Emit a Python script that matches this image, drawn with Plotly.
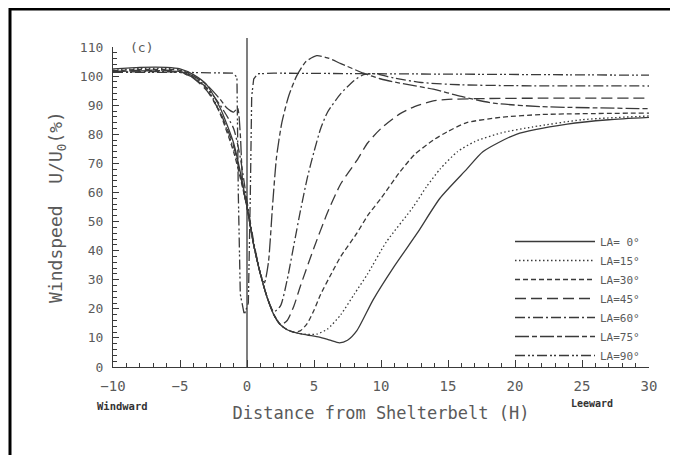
import plotly.graph_objects as go

# ---------------- data ----------------
angle_labels = ["LA= 0°", "LA=15°", "LA=30°", "LA=45°", "LA=60°", "LA=75°", "LA=90°"]

x_a0 = [-10, -8, -6, -5, -4, -3, -2, -1, -0.5, 0, 0.5, 1, 1.5, 2, 2.5, 3, 3.7, 4.5, 5.4, 6.2, 6.9, 7.5, 8.2, 9.4, 10.9, 12.7, 14.4, 16.4, 17.6, 20.1, 23.9, 27, 30]
y_a0 = [102.5, 103, 103, 102.5, 100.5, 97, 89, 77, 67, 55, 42, 32, 24, 18, 14.5, 12.8, 11.7, 11, 10.3, 9.2, 8.3, 9.2, 12.5, 23, 34, 46, 58, 68, 74, 80, 83.5, 85, 85.8]

x_a15 = [-10, -8, -6, -5, -4, -3, -2, -1, -0.5, 0, 0.5, 1, 1.5, 2, 2.5, 3, 3.7, 4.5, 5.2, 6, 7, 8, 9, 10.4, 12.4, 13.4, 14.4, 15.7, 17, 19, 21.3, 25, 30]
y_a15 = [102, 102.6, 102.6, 102.2, 100, 96, 87.5, 75, 66, 55, 42, 32, 24, 18, 14.5, 12.8, 11.7, 11.2, 11.3, 13, 18, 25, 32, 43, 55, 62, 68, 74, 77.5, 80.5, 82.5, 85, 86.3]

x_a30 = [-10, -8, -6, -5, -4, -3, -2, -1, -0.5, 0, 0.5, 1, 1.5, 2, 2.5, 3, 3.5, 4, 4.5, 5, 5.5, 6.4, 7, 8.2, 9, 10, 11.4, 12.5, 13.9, 15, 16.4, 18.9, 22, 30]
y_a30 = [101.8, 102.3, 102.3, 102, 99.5, 95.5, 87, 74, 65, 55, 42, 32, 24, 18, 14.5, 12.8, 12, 12.5, 15, 19.5, 25, 33, 38, 46, 52, 58, 67, 73, 78, 81, 84, 85.8, 86.8, 87.3]

x_a45 = [-10, -8, -6, -5, -4, -3, -2, -1, -0.5, 0, 0.5, 1, 1.5, 2, 2.5, 3, 3.5, 4, 5, 6, 7, 8.2, 9, 10, 11.4, 12.5, 13.9, 15, 18, 22, 30]
y_a45 = [101.5, 102, 102, 101.5, 99.3, 95, 87.5, 76, 66, 55, 42, 32, 24, 18, 14.5, 16, 21, 28, 41, 53, 63, 71, 77, 82, 87, 89.5, 91.5, 92, 92.3, 92.4, 92.4]

x_a60 = [-10, -8, -6, -5, -4, -3, -2, -1, -0.5, 0, 0.5, 1, 1.5, 2, 2.5, 3, 3.5, 4, 4.5, 5, 5.5, 6, 7, 8, 8.7, 9.5, 11, 13, 16, 20, 30]
y_a60 = [101.3, 101.5, 101.5, 101.3, 99.5, 96, 90, 82, 72, 57, 43, 32, 24, 19, 21, 30, 42, 54, 65, 74, 82, 87.5, 94, 98.5, 100.5, 100.8, 99.3, 97.8, 97, 96.7, 96.6]

x_a75 = [-10, -8, -6, -5, -4, -3, -2, -1.5, -1.0, -0.7, -0.5, -0.3, 0, 0.5, 1, 1.3, 1.6, 1.9, 2.2, 2.6, 3.1, 3.7, 4.4, 5.2, 6, 7, 8.7, 10, 11.4, 13.9, 16, 18.4, 22, 30]
y_a75 = [101.5, 101.8, 101.8, 101.5, 100, 97, 92, 89, 87.6, 89, 80, 62, 55, 42, 32, 29, 36, 55, 72, 84, 93, 100, 105, 107, 106.3, 104.3, 101, 99, 97.6, 95.5, 93, 90.7, 89.5, 88.8]

x_a90 = [-10, -5, -1.0, -0.75, -0.65, -0.5, -0.2, 0.1, 0.25, 0.35, 0.5, 0.8, 2, 10, 20, 30]
y_a90 = [101.3, 101.3, 101, 99.5, 60, 25, 18, 22, 60, 93, 99, 100.8, 101, 100.8, 100.5, 100.3]

series_x = [x_a0, x_a15, x_a30, x_a45, x_a60, x_a75, x_a90]
series_y = [y_a0, y_a15, y_a30, y_a45, y_a60, y_a75, y_a90]

x_ticks = [-10, -5, 0, 5, 10, 15, 20, 25, 30]
y_ticks = [0, 10, 20, 30, 40, 50, 60, 70, 80, 90, 100, 110]
shelterbelt_x = 0

# ---------------- style ----------------
dashes = ["solid", "1.5px,2.5px", "5px,3px", "11px,5px", "10px,3px,2px,3px",
          "14px,3px,5px,3px", "10px,3px,2px,2px,2px,3px"]
line_color = "#3a3a3a"
text_color = "#5a5a5a"
mono = "DejaVu Sans Mono"

# page geometry (the html body adds an 8px offset)
OFF = 8
PAGE_W, PAGE_H = 678, 455
W, H = PAGE_W - OFF, PAGE_H - OFF
PLOT_L, PLOT_R, PLOT_T, PLOT_B = 113, 649, 47, 367  # page pixels of the plot area
L, T = PLOT_L - OFF, PLOT_T - OFF
R, B = W - (PLOT_R - OFF), H - (PLOT_B - OFF)
pw, ph = PLOT_R - PLOT_L, PLOT_B - PLOT_T


def px_x(px):
    return (px - PLOT_L) / pw


def px_y(py):
    return (PLOT_B - py) / ph


fig = go.Figure()
for name, xs, ys, d in zip(angle_labels, series_x, series_y, dashes):
    fig.add_trace(go.Scatter(
        x=xs, y=ys, mode="lines", name=name,
        line=dict(color=line_color, width=1.3, dash=d,
                  shape="linear" if name.endswith("90°") else "spline", smoothing=0.6),
    ))

fig.update_layout(
    width=W, height=H,
    margin=dict(l=L, r=R, t=T, b=B, autoexpand=False),
    paper_bgcolor="white", plot_bgcolor="white",
    font=dict(family=mono, color=text_color, size=13),
    showlegend=True,
    legend=dict(
        x=px_x(510), y=px_y(227), xanchor="left", yanchor="top",
        bgcolor="rgba(0,0,0,0)", borderwidth=0,
        font=dict(family=mono, size=11, color=text_color),
        itemwidth=80, tracegroupgap=0,
    ),
    xaxis=dict(
        range=[-10, 30], tickvals=x_ticks, showgrid=False, zeroline=False,
        showline=True, linecolor=line_color, linewidth=1.2,
        ticks="inside", ticklen=7, tickcolor=line_color, tickwidth=1,
        minor=dict(dtick=1, ticks="inside", ticklen=4, tickcolor=line_color, showgrid=False),
        tickfont=dict(family=mono, size=14, color=text_color),
        ticklabelstandoff=6,
        title=dict(text="Distance from Shelterbelt (H)", standoff=14,
                   font=dict(family=mono, size=17, color=text_color)),
    ),
    yaxis=dict(
        range=[0, 110], tickvals=y_ticks, showgrid=False, zeroline=False,
        showline=True, linecolor=line_color, linewidth=1.2,
        ticks="inside", ticklen=6, tickcolor=line_color, tickwidth=1,
        minor=dict(dtick=2, ticks="inside", ticklen=4, tickcolor=line_color, showgrid=False),
        tickfont=dict(family=mono, size=13, color=text_color),
        ticklabelstandoff=6,
        title=dict(text="Windspeed  U/U<sub>0</sub>(%)", standoff=12,
                   font=dict(family=mono, size=18, color=text_color)),
    ),
    shapes=[
        dict(type="line", xref="x", yref="paper", x0=shelterbelt_x, x1=shelterbelt_x,
             y0=0, y1=px_y(38), line=dict(color=line_color, width=1.3)),
        dict(type="line", xref="paper", yref="paper", x0=px_x(10), x1=px_x(690),
             y0=px_y(9), y1=px_y(9), line=dict(color="black", width=3)),
        dict(type="line", xref="paper", yref="paper", x0=px_x(10), x1=px_x(10),
             y0=px_y(8), y1=px_y(470), line=dict(color="black", width=3)),
    ],
    annotations=[
        dict(text="(c)", xref="paper", yref="paper", x=px_x(128), y=px_y(47),
             xanchor="left", yanchor="middle", showarrow=False,
             font=dict(family=mono, size=13, color=text_color)),
        dict(text="<b>Windward</b>", xref="paper", yref="paper", x=px_x(122), y=px_y(406),
             xanchor="center", yanchor="middle", showarrow=False,
             font=dict(family=mono, size=10.5, color="#333")),
        dict(text="<b>Leeward</b>", xref="paper", yref="paper", x=px_x(592), y=px_y(403),
             xanchor="center", yanchor="middle", showarrow=False,
             font=dict(family=mono, size=10, color="#333")),
    ],
)

fig.write_html("out.html")
